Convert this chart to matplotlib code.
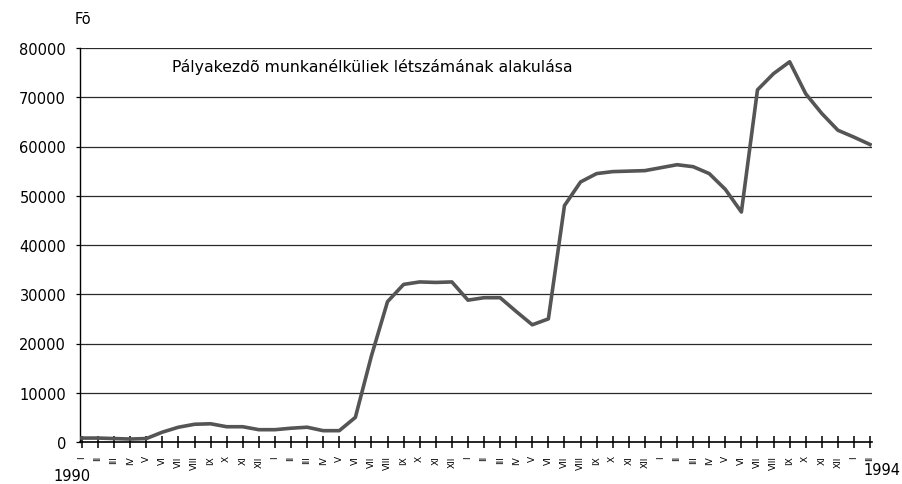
import matplotlib
matplotlib.use("Agg")
import matplotlib.pyplot as plt

# Havi adatok, 1990 I - 1994 II
months = ["I", "II", "III", "IV", "V", "VI", "VII", "VIII", "IX", "X", "XI", "XII"]
labels = months * 4 + ["I", "II"]
values = [800, 800, 700, 600, 700, 2000, 3000, 3600, 3700, 3100,
          3100, 2500, 2500, 2800, 3000, 2300, 2300, 5000, 17500, 28500,
          32000, 32500, 32400, 32500, 28800, 29300, 29300, 26500, 23800, 25000,
          48000, 52800, 54500, 54900, 55000, 55100, 55700, 56300, 55900, 54500,
          51300, 46700, 71500, 74800, 77200, 70700, 66700, 63300, 61900, 60400]
yticks = [0, 10000, 20000, 30000, 40000, 50000, 60000, 70000, 80000]
title = "Pályakezdõ munkanélküliek létszámának alakulása"

plt.rcParams['font.family'] = ['DejaVu Sans']

fig = plt.figure(figsize=(9.03, 4.85), dpi=100)
ax = fig.add_axes([80 / 903, 1 - 443 / 485, 792 / 903, 394 / 485])

x = list(range(len(values)))
ax.plot(x, values, color="#555555", linewidth=2.6, solid_joinstyle="round", zorder=3)

ax.set_xlim(-0.12, 49.12)
ax.set_ylim(0, 80000)
ax.set_yticks(yticks)
ax.set_yticklabels([str(v) for v in yticks], fontsize=10.5)
for v in yticks[1:]:
    ax.axhline(v, color="#2a2a2a", linewidth=0.9, zorder=1)

ax.set_xticks(x)
ax.set_xticklabels(labels, rotation=90, fontsize=6.5)
ax.tick_params(axis="x", direction="inout", length=9, width=1.1, pad=5)
ax.tick_params(axis="y", length=3, width=0.9, pad=7)

ax.spines["top"].set_visible(False)
ax.spines["right"].set_visible(False)
ax.spines["left"].set_linewidth(1.0)
ax.spines["bottom"].set_linewidth(1.2)

fig.text(172 / 903, 1 - 67 / 485, title, fontsize=11.3, va="center", ha="left")
fig.text(75 / 903, 1 - 19 / 485, "Fõ", fontsize=10.5, va="center", ha="left")
fig.text(72 / 903, 1 - 477 / 485, "1990", fontsize=10.5, va="center", ha="center")
fig.text(882 / 903, 1 - 471 / 485, "1994", fontsize=10.5, va="center", ha="center")

fig.savefig("out.png", dpi=100, facecolor="white")
